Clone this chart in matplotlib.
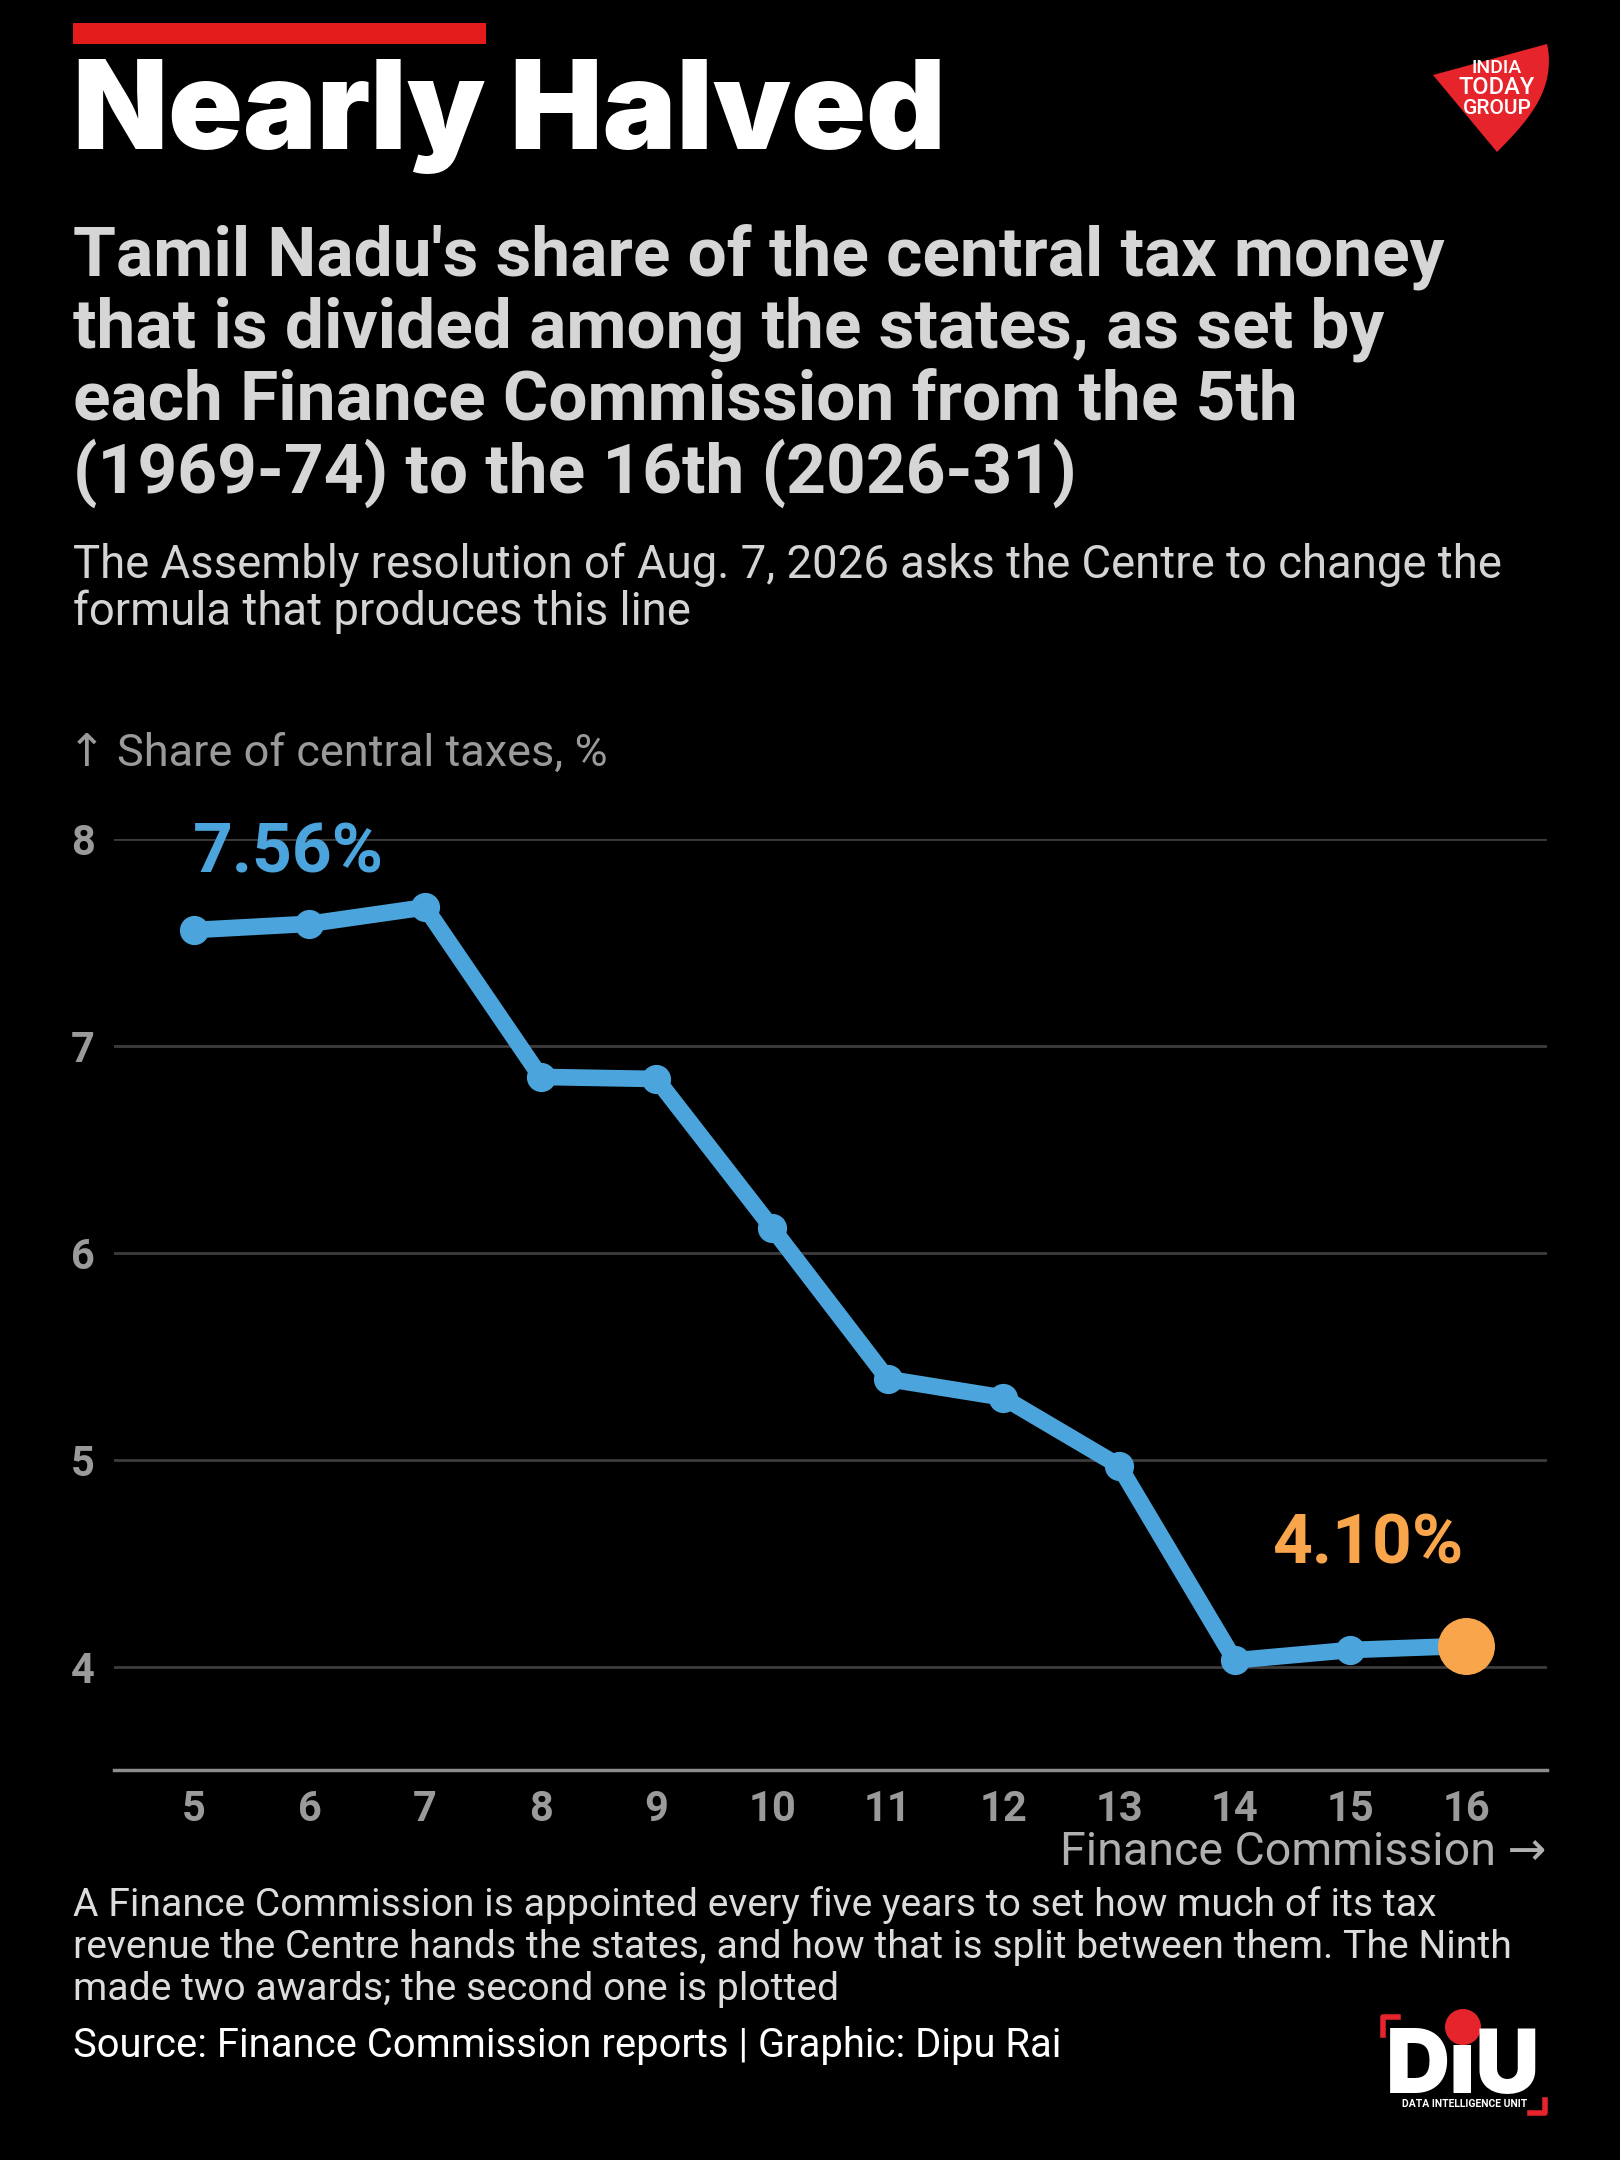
import matplotlib
matplotlib.use("Agg")
import matplotlib.pyplot as plt
from matplotlib import font_manager
from matplotlib.patches import Rectangle, Polygon, Circle
from matplotlib.transforms import offset_copy
import numpy as np

# data
commissions = [5, 6, 7, 8, 9, 10, 11, 12, 13, 14, 15, 16]
share = [7.56, 7.59, 7.67, 6.85, 6.84, 6.12, 5.39, 5.30, 4.97, 4.03, 4.08, 4.10]
y_ticks = [4, 5, 6, 7, 8]

W, H = 1620, 2160
BG = "#000000"
BLUE = "#4ba5dc"
ORANGE = "#f9a54c"
RED = "#e5242b"


def pick_font(names, min_weight):
    # first installed family from names that has a heavy enough face
    for name in names:
        for f in font_manager.fontManager.ttflist:
            if f.name == name and isinstance(f.weight, int) and f.weight >= min_weight:
                return name, f.weight
    return "DejaVu Sans", "bold"


heavy_family, heavy_weight = pick_font(["Inter", "Lato", "Roboto", "Open Sans", "Noto Sans"], 800)
body = ["Roboto", "DejaVu Sans"]

fig = plt.figure(figsize=(W / 100, H / 100), dpi=100, facecolor=BG)


def fx(x):
    return x / W


def fy(y):
    return 1 - y / H


# red tag above the title
fig.patches.append(Rectangle((fx(73), fy(44)), fx(486) - fx(73), fy(23) - fy(44),
                             transform=fig.transFigure, color="#e31b1b", lw=0))

fig.text(fx(73), fy(149), "Nearly Halved", color="white", fontsize=89,
         family=heavy_family, weight=heavy_weight, va="baseline")

subtitle = ["Tamil Nadu's share of the central tax money",
            "that is divided among the states, as set by",
            "each Finance Commission from the 5th",
            "(1969-74) to the 16th (2026-31)"]
for i, line in enumerate(subtitle):
    fig.text(fx(73), fy(275 + i * 72.5), line, color="#d6d6d6", fontsize=50,
             family=body, weight="bold", va="baseline")

desc = ["The Assembly resolution of Aug. 7, 2026 asks the Centre to change the",
        "formula that produces this line"]
for i, line in enumerate(desc):
    fig.text(fx(73), fy(578 + i * 47), line, color="#d4d4d4", fontsize=32.8,
             family=body, va="baseline")

fig.text(fx(68), fy(766), "\u2191 Share of central taxes, %", color="#9a9a9a",
         fontsize=32.5, family=body, va="baseline")

# chart
ax_left, ax_right = 114, 1547
y_top, y_bot = 839, 1770
ax = fig.add_axes([fx(ax_left), fy(y_bot), fx(ax_right) - fx(ax_left), fy(y_top) - fy(y_bot)])
ax.set_facecolor(BG)
ax.set_xlim(4.31, 16.7)
ax.set_ylim(3.5, 8.0)

for v in y_ticks:
    ax.axhline(v, color="#3c3c3c", lw=2, zorder=1)

ax.plot(commissions, share, color=BLUE, lw=12, marker="o", ms=20,
        solid_joinstyle="round", zorder=3, clip_on=False)
ax.plot(commissions[-1], share[-1], "o", color=ORANGE, ms=40, zorder=4, clip_on=False)

first_tr = offset_copy(ax.transData, fig=fig, x=95, y=58, units="dots")
last_tr = offset_copy(ax.transData, fig=fig, x=-98, y=82, units="dots")
ax.text(commissions[0], share[0], f"{share[0]:.2f}%", transform=first_tr,
        ha="center", va="baseline", color=BLUE, fontsize=50, family=body, weight="bold")
ax.text(commissions[-1], share[-1], f"{share[-1]:.2f}%", transform=last_tr,
        ha="center", va="baseline", color=ORANGE, fontsize=50, family=body, weight="bold")

for side in ["top", "left", "right"]:
    ax.spines[side].set_visible(False)
ax.spines["bottom"].set_color("#8c8c8c")
ax.spines["bottom"].set_linewidth(2.5)

ax.set_xticks(commissions)
ax.set_xticklabels([str(c) for c in commissions])
ax.set_yticks(y_ticks)
ax.tick_params(axis="both", length=0, colors="#9a9a9a", labelsize=30)
ax.tick_params(axis="x", pad=14)
ax.tick_params(axis="y", pad=14)
for lab in ax.get_xticklabels() + ax.get_yticklabels():
    lab.set_fontfamily(body)
    lab.set_fontweight("bold")
ax.grid(False)

fig.text(fx(1547), fy(1865), "Finance Commission \u2192", color="#b0b0b0", fontsize=33.5,
         family=body, ha="right", va="baseline")

notes = ["A Finance Commission is appointed every five years to set how much of its tax",
         "revenue the Centre hands the states, and how that is split between them. The Ninth",
         "made two awards; the second one is plotted"]
for i, line in enumerate(notes):
    fig.text(fx(73), fy(1916 + i * 42), line, color="#dcdcdc", fontsize=28.2,
             family=body, va="baseline")

fig.text(fx(73), fy(2057), "Source: Finance Commission reports | Graphic: Dipu Rai",
         color="white", fontsize=28.8, family=body, va="baseline")

# India Today Group mark (approximation)
shape = [(1433, 75)] + [(1547 - (1547 - 1497) * (k / 29) ** 1.4 + 12 * np.sin(np.pi * k / 29),
                          44 + (152 - 44) * k / 29) for k in range(30)]
fig.patches.append(Polygon([(fx(x), fy(y)) for x, y in shape], closed=True,
                           transform=fig.transFigure, color=RED, lw=0))
for txt, yy, fs in [("INDIA", 68, 14), ("TODAY", 88, 17), ("GROUP", 108, 15)]:
    fig.text(fx(1497), fy(yy), txt, color="white", fontsize=fs, family=body,
             weight="medium", ha="center", va="center")

# DIU mark (approximation)
fig.text(fx(1463), fy(2093), "D\u0131U", color="white", fontsize=64, family=heavy_family,
         weight=heavy_weight, ha="center", va="baseline")
fig.patches.append(Circle((1463 / 100, (H - 2027) / 100), 0.18,
                          transform=fig.dpi_scale_trans, color=RED, lw=0))
fig.text(fx(1465), fy(2104), "DATA INTELLIGENCE UNIT", color="white", fontsize=7.5,
         family=body, weight="bold", ha="center", va="center")
for pts in [[(1383, 2035), (1383, 2017), (1398, 2017)],
            [(1545, 2100), (1545, 2113), (1530, 2113)]]:
    fig.lines.append(plt.Line2D([fx(p[0]) for p in pts], [fy(p[1]) for p in pts],
                                transform=fig.transFigure, color=RED, lw=4))

fig.savefig("out.png", dpi=100, facecolor=BG)
